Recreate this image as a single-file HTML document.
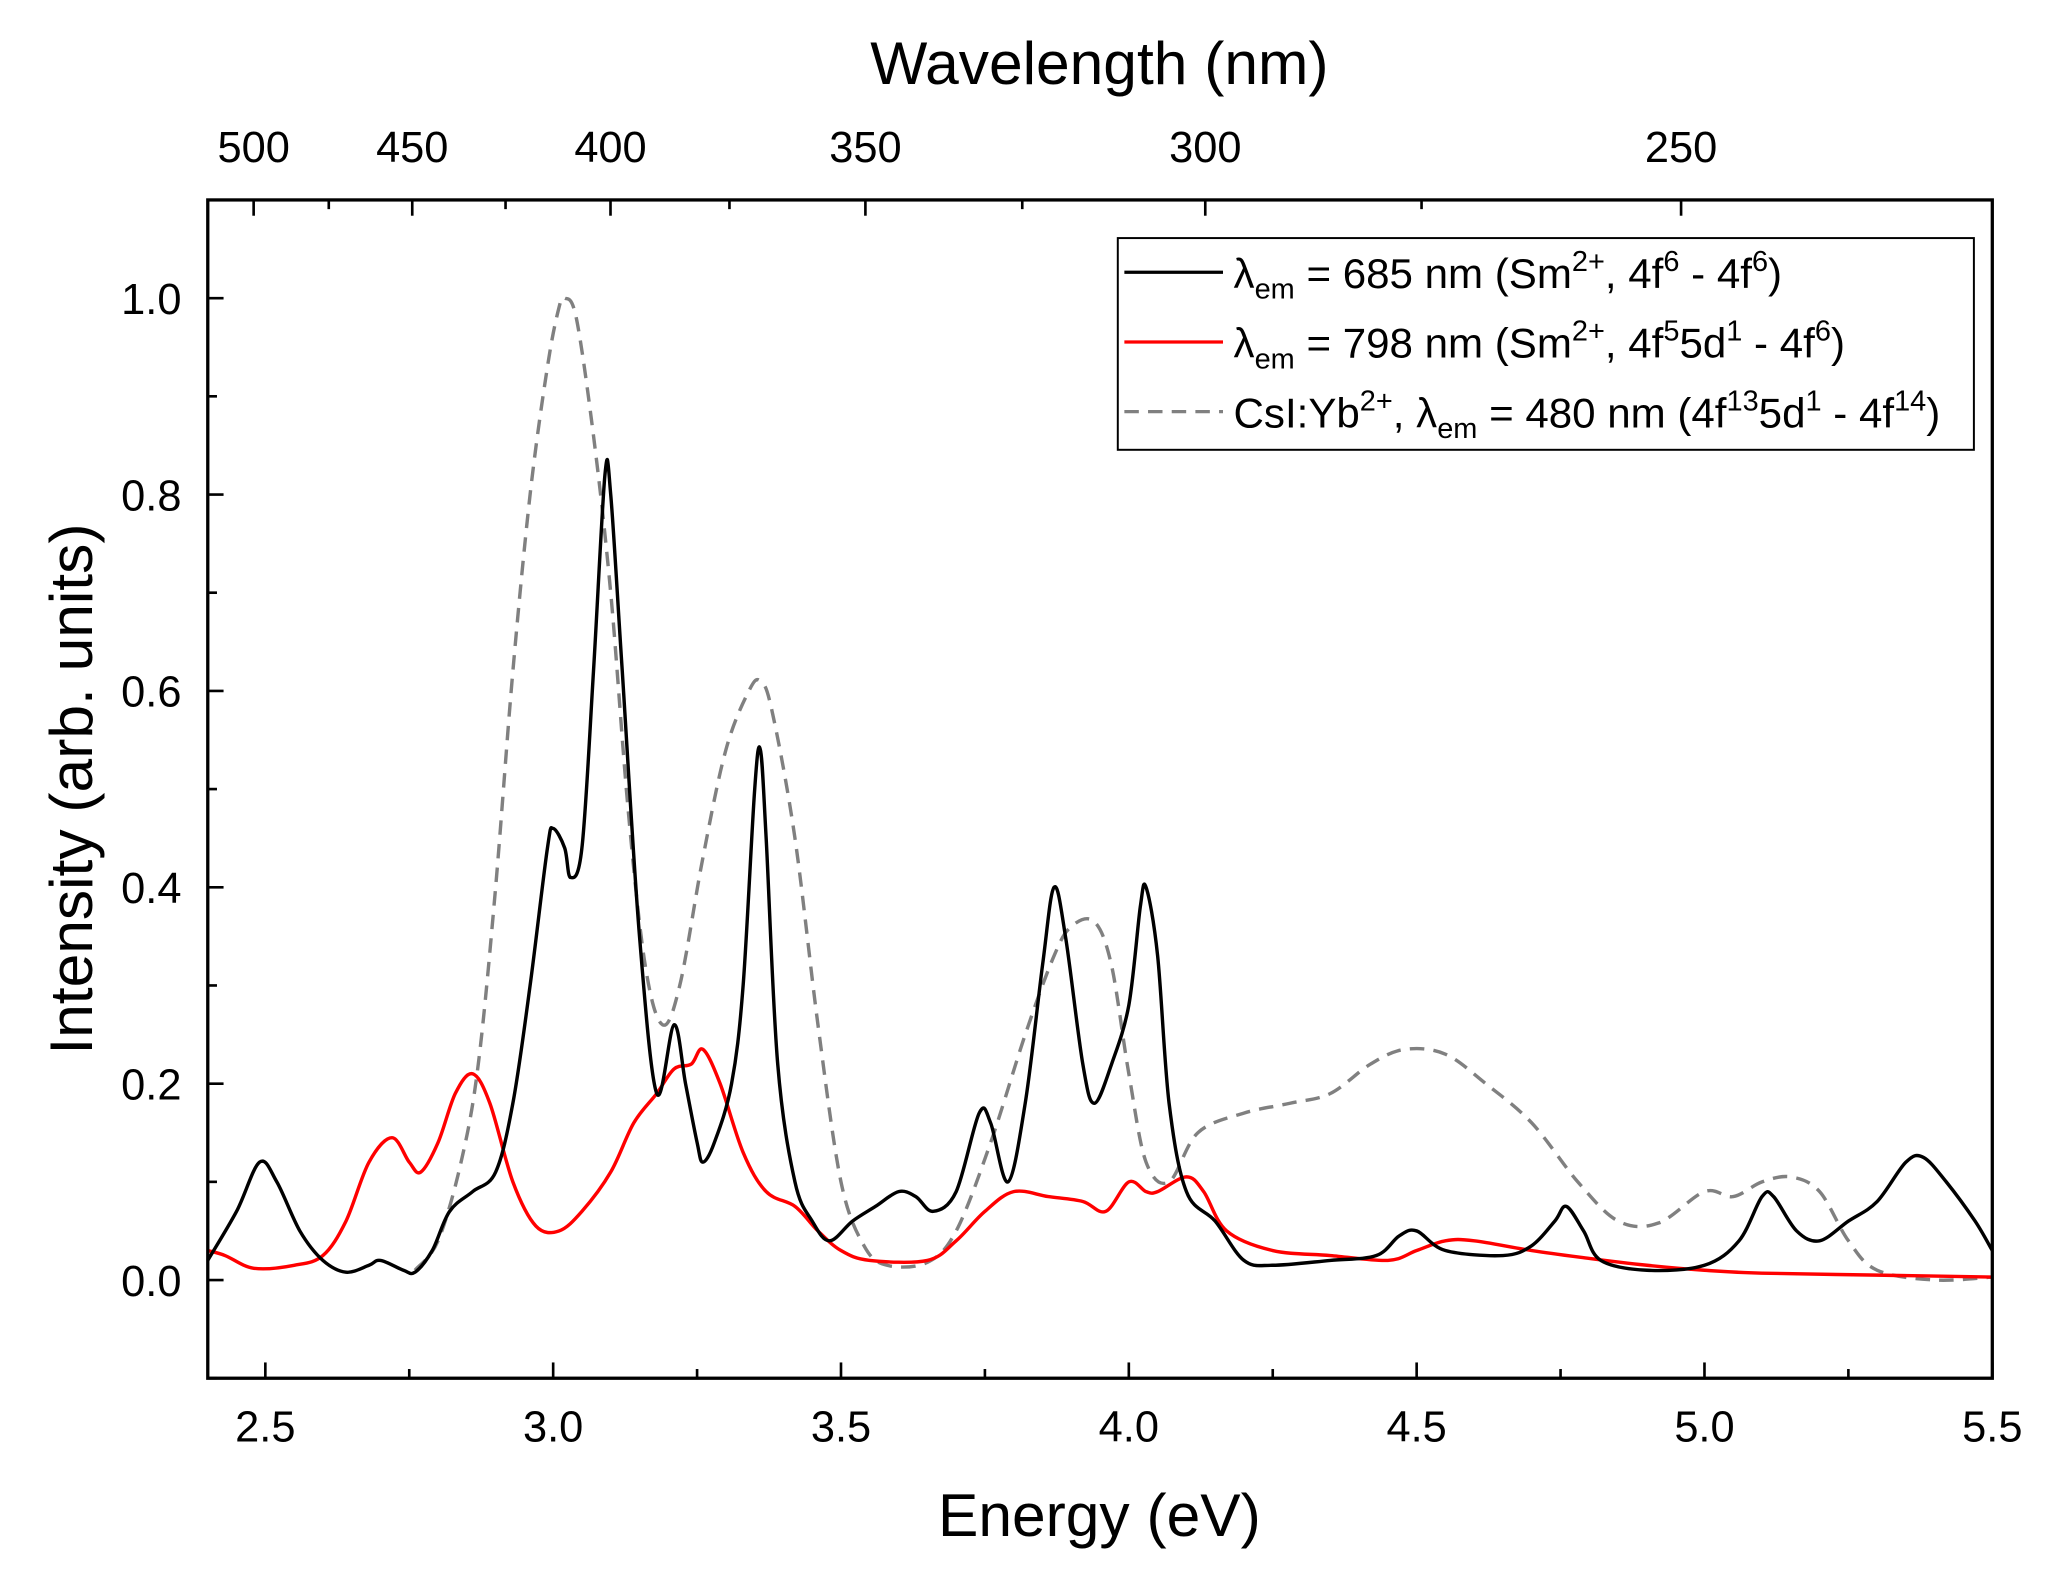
<!DOCTYPE html>
<html><head><meta charset="utf-8"><style>
html,body{margin:0;padding:0;background:#fff}
svg{display:block;font-family:"Liberation Sans",sans-serif}
</style></head><body>
<svg id="chart" width="2062" height="1590" viewBox="0 0 1568 1209" xmlns="http://www.w3.org/2000/svg">
<g id="plot"></g>
<g id="axes"></g>
<text x="836" y="1168" font-size="46" text-anchor="middle">Energy (eV)</text>
<text x="836" y="64" font-size="46" text-anchor="middle">Wavelength (nm)</text>
<text transform="translate(70,600) rotate(-90)" font-size="46" text-anchor="middle">Intensity (arb. units)</text>
<g>
<rect x="850" y="181" width="651" height="161" fill="#fff" stroke="#000" stroke-width="1.5"/>
<line x1="855" y1="207" x2="930" y2="207" stroke="#000" stroke-width="2.5"/>
<text x="938" y="219" font-size="32">λ<tspan font-size="22" dy="8">em</tspan><tspan dy="-8"> = 685 nm (Sm</tspan><tspan font-size="22" dy="-13">2+</tspan><tspan dy="13">, 4f</tspan><tspan font-size="22" dy="-13">6</tspan><tspan dy="13"> - 4f</tspan><tspan font-size="22" dy="-13">6</tspan><tspan dy="13">)</tspan></text>
<line x1="855" y1="260" x2="930" y2="260" stroke="#f00" stroke-width="2.5"/>
<text x="938" y="272" font-size="32">λ<tspan font-size="22" dy="8">em</tspan><tspan dy="-8"> = 798 nm (Sm</tspan><tspan font-size="22" dy="-13">2+</tspan><tspan dy="13">, 4f</tspan><tspan font-size="22" dy="-13">5</tspan><tspan dy="13">5d</tspan><tspan font-size="22" dy="-13">1</tspan><tspan dy="13"> - 4f</tspan><tspan font-size="22" dy="-13">6</tspan><tspan dy="13">)</tspan></text>
<line x1="855" y1="313" x2="930" y2="313" stroke="#808080" stroke-width="2.5" stroke-dasharray="11,7"/>
<text x="938" y="325" font-size="32">CsI:Yb<tspan font-size="22" dy="-13">2+</tspan><tspan dy="13">, λ</tspan><tspan font-size="22" dy="8">em</tspan><tspan dy="-8"> = 480 nm (4f</tspan><tspan font-size="22" dy="-13">13</tspan><tspan dy="13">5d</tspan><tspan font-size="22" dy="-13">1</tspan><tspan dy="13"> - 4f</tspan><tspan font-size="22" dy="-13">14</tspan><tspan dy="13">)</tspan></text>
</g>
</svg>
<script>
const blackE=[2.40,2.45,2.49,2.52,2.56,2.60,2.64,2.68,2.70,2.74,2.76,2.79,2.82,2.86,2.90,2.93,2.96,2.99,3.00,3.02,3.03,3.05,3.07,3.09,3.10,3.12,3.15,3.18,3.21,3.23,3.25,3.26,3.28,3.31,3.33,3.35,3.36,3.37,3.39,3.42,3.45,3.48,3.52,3.56,3.60,3.63,3.66,3.70,3.74,3.76,3.79,3.82,3.85,3.87,3.89,3.92,3.94,3.97,4.00,4.02,4.03,4.05,4.07,4.10,4.15,4.20,4.25,4.35,4.43,4.47,4.50,4.55,4.65,4.70,4.74,4.76,4.79,4.82,4.90,5.00,5.06,5.10,5.12,5.16,5.20,5.25,5.30,5.35,5.38,5.42,5.47,5.50];
const blackI=[0.02,0.07,0.12,0.10,0.05,0.02,0.008,0.015,0.02,0.01,0.008,0.03,0.07,0.09,0.11,0.18,0.30,0.44,0.46,0.44,0.41,0.44,0.62,0.82,0.80,0.62,0.35,0.19,0.26,0.20,0.14,0.12,0.14,0.20,0.30,0.50,0.54,0.45,0.22,0.10,0.06,0.04,0.06,0.075,0.09,0.085,0.07,0.09,0.17,0.16,0.10,0.18,0.32,0.40,0.35,0.22,0.18,0.22,0.28,0.38,0.40,0.33,0.18,0.09,0.06,0.02,0.015,0.02,0.025,0.045,0.05,0.03,0.025,0.035,0.06,0.075,0.05,0.02,0.01,0.015,0.04,0.085,0.085,0.05,0.04,0.06,0.08,0.12,0.125,0.10,0.06,0.03];
const redE=[2.40,2.43,2.48,2.55,2.60,2.64,2.68,2.72,2.75,2.77,2.80,2.83,2.86,2.89,2.93,2.97,3.01,3.05,3.10,3.14,3.18,3.21,3.24,3.26,3.29,3.33,3.37,3.42,3.46,3.50,3.55,3.65,3.70,3.75,3.80,3.86,3.92,3.96,4.00,4.03,4.05,4.10,4.13,4.17,4.25,4.35,4.45,4.50,4.55,4.60,4.70,4.80,4.90,5.00,5.10,5.30,5.50];
const redI=[0.03,0.025,0.012,0.015,0.025,0.06,0.12,0.145,0.12,0.11,0.14,0.19,0.21,0.18,0.10,0.055,0.05,0.07,0.11,0.16,0.19,0.215,0.22,0.235,0.20,0.13,0.09,0.075,0.05,0.03,0.02,0.02,0.04,0.07,0.09,0.085,0.08,0.07,0.10,0.09,0.09,0.105,0.09,0.05,0.03,0.025,0.02,0.03,0.04,0.04,0.03,0.022,0.015,0.01,0.007,0.005,0.003];
const grayE=[2.76,2.80,2.84,2.87,2.90,2.93,2.96,2.99,3.01,3.02,3.04,3.07,3.10,3.13,3.16,3.19,3.22,3.26,3.30,3.34,3.36,3.38,3.42,3.46,3.50,3.54,3.58,3.65,3.70,3.76,3.82,3.87,3.90,3.94,3.97,4.00,4.03,4.07,4.12,4.20,4.28,4.35,4.42,4.48,4.55,4.62,4.70,4.78,4.85,4.92,5.00,5.05,5.10,5.15,5.20,5.25,5.30,5.40,5.50];
const grayI=[0.01,0.04,0.12,0.22,0.40,0.62,0.80,0.93,0.99,1.0,0.98,0.86,0.70,0.48,0.32,0.26,0.30,0.43,0.54,0.60,0.61,0.58,0.45,0.26,0.10,0.035,0.015,0.018,0.05,0.14,0.25,0.33,0.36,0.365,0.32,0.21,0.12,0.10,0.15,0.17,0.18,0.19,0.22,0.235,0.23,0.20,0.16,0.10,0.06,0.058,0.09,0.085,0.10,0.105,0.09,0.04,0.01,0.0,0.003];
const xTicks=[2.5,3.0,3.5,4.0,4.5,5.0,5.5];
const xTickLabels=["2.5","3.0","3.5","4.0","4.5","5.0","5.5"];
const yTicks=[0.0,0.2,0.4,0.6,0.8,1.0];
const yTickLabels=["0.0","0.2","0.4","0.6","0.8","1.0"];
const wlTicks=[500,450,400,350,300,250];

const L=158,R=1515,T=152,B=1048,xmin=2.4,xmax=5.5,ymin=-0.1,ymax=1.1;
const sx=e=>L+(e-xmin)/(xmax-xmin)*(R-L);
const sy=v=>B-(v-ymin)/(ymax-ymin)*(B-T);
const NS="http://www.w3.org/2000/svg";
const plot=document.getElementById('plot'),axes=document.getElementById('axes');
function mk(tag,attrs,parent){const el=document.createElementNS(NS,tag);for(const k in attrs)el.setAttribute(k,attrs[k]);parent.appendChild(el);return el;}
function series(E,I,color,dash,name){
  const P=E.map((e,i)=>[sx(e),sy(I[i])]);
  let d='M'+P[0][0].toFixed(1)+','+P[0][1].toFixed(1);
  for(let i=0;i<P.length-1;i++){
    const p0=P[Math.max(0,i-1)],p1=P[i],p2=P[i+1],p3=P[Math.min(P.length-1,i+2)];
    const c1=[p1[0]+(p2[0]-p0[0])/6,p1[1]+(p2[1]-p0[1])/6];
    const c2=[p2[0]-(p3[0]-p1[0])/6,p2[1]-(p3[1]-p1[1])/6];
    d+='C'+c1[0].toFixed(1)+','+c1[1].toFixed(1)+' '+c2[0].toFixed(1)+','+c2[1].toFixed(1)+' '+p2[0].toFixed(1)+','+p2[1].toFixed(1);
  }
  const p=mk('path',{d:d,fill:'none',stroke:color,'stroke-width':2.6,'stroke-linejoin':'round'},plot);
  if(dash)p.setAttribute('stroke-dasharray',dash);
  
  
}
series(grayE,grayI,'#808080','11,7','series-csi-yb-480');
series(redE,redI,'#f00',null,'series-sm-798');
series(blackE,blackI,'#000',null,'series-sm-685');
const frame=mk('rect',{x:L,y:T,width:R-L,height:B-T,fill:'none',stroke:'#000','stroke-width':2.5},axes);


for(let v=2.5;v<=5.51;v+=0.25){const x=sx(v),maj=Math.abs(v*2-Math.round(v*2))<1e-6;mk('line',{x1:x,y1:B,x2:x,y2:B-(maj?12:7),stroke:'#000','stroke-width':2},axes);}
xTicks.forEach((v,i)=>{const t=mk('text',{x:sx(v),y:B+48,'font-size':33,'text-anchor':'middle'},axes);t.textContent=xTickLabels[i];

});
for(let v=-0.1;v<=1.101;v+=0.1){const y=sy(v),maj=Math.abs(Math.round(v*10)%2)===0;mk('line',{x1:L,y1:y,x2:L+(maj?12:7),y2:y,stroke:'#000','stroke-width':2},axes);}
yTicks.forEach((v,i)=>{const t=mk('text',{x:L-20,y:sy(v)+12,'font-size':33,'text-anchor':'end'},axes);t.textContent=yTickLabels[i];

});
for(let w=525;w>=225;w-=25){const e=1239.84/w;if(e<xmin||e>xmax)continue;const x=sx(e),maj=w%50===0;mk('line',{x1:x,y1:T,x2:x,y2:T+(maj?12:7),stroke:'#000','stroke-width':2},axes);}
wlTicks.forEach(w=>{const t=mk('text',{x:sx(1239.84/w),y:T-29,'font-size':33,'text-anchor':'middle'},axes);t.textContent=String(w);

});
</script>
</body></html>
